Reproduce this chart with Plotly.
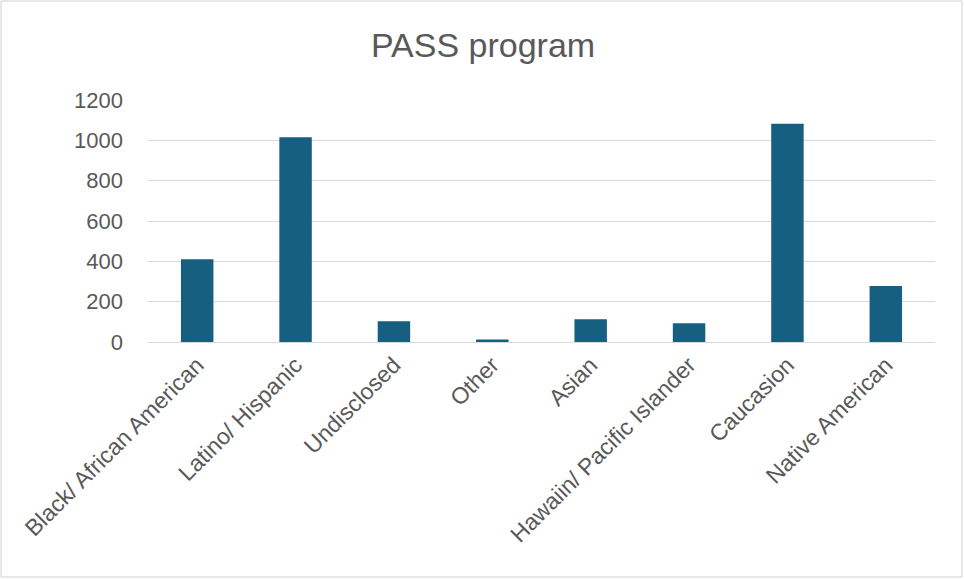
import plotly.graph_objects as go

categories = ["Black/ African American", "Latino/ Hispanic", "Undisclosed", "Other",
              "Asian", "Hawaiin/ Pacific Islander", "Caucasion", "Native American"]
values = [410, 1015, 103, 12, 113, 93, 1082, 278]
y_ticks = [0, 200, 400, 600, 800, 1000, 1200]

W, H = 964, 579
ml, mr, mt, mb = 148, 29, 100, 237

fig = go.Figure(go.Bar(x=categories, y=values, marker=dict(color="#165f81", line=dict(width=0))))

pw = W - ml - mr
ph = H - mt - mb
fig.add_shape(type="rect", xref="paper", yref="paper",
              x0=(1 - ml) / pw, x1=(W - 2 - ml) / pw,
              y0=-(H - 2 - mt - ph) / ph, y1=1 + (mt - 1) / ph,
              line=dict(color="#d0d0d0", width=1), fillcolor="rgba(0,0,0,0)", layer="below")

fig.update_layout(
    width=W, height=H,
    margin=dict(l=ml, r=mr, t=mt, b=mb, autoexpand=False),
    paper_bgcolor="white", plot_bgcolor="white",
    bargap=0.67,
    showlegend=False,
    title=dict(text="PASS program", x=483 / W, xref="container", xanchor="center",
               y=1 - 45 / H, yref="container", yanchor="middle",
               font=dict(family="Liberation Sans, Arial, sans-serif", size=34, color="#595959")),
    font=dict(family="Liberation Sans, Arial, sans-serif", size=22, color="#595959"),
    xaxis=dict(tickangle=-45, showgrid=False, showline=False, ticks="", automargin=False,
               ticklabelstandoff=4,
               tickfont=dict(size=23, color="#595959")),
    yaxis=dict(range=[0, 1200], tickvals=y_ticks, showgrid=True, gridcolor="#d9d9d9",
               gridwidth=1, zeroline=True, zerolinecolor="#d9d9d9", zerolinewidth=1,
               showline=False, ticks="", ticklabelstandoff=24, automargin=False,
               tickfont=dict(size=22, color="#595959")),
)

fig.write_html("out.html")
